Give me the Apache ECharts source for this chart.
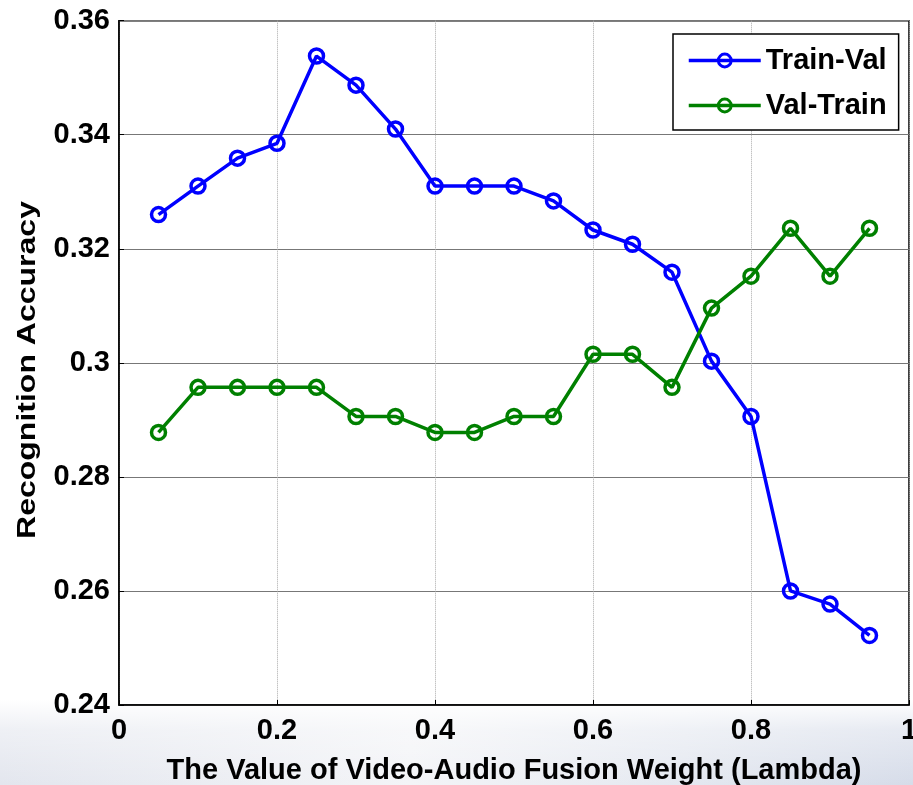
<!DOCTYPE html>
<html>
<head>
<meta charset="utf-8">
<script src="https://cdn.jsdelivr.net/npm/echarts@6/dist/echarts.min.js"></script>
<style>
  html, body { margin: 0; padding: 0; background: #fff; }
  #chart { width: 913px; height: 785px; }
</style>
</head>
<body>
<div id="chart"></div>
<script>
var lambdas = [0.05, 0.10, 0.15, 0.20, 0.25, 0.30, 0.35, 0.40, 0.45, 0.50,
               0.55, 0.60, 0.65, 0.70, 0.75, 0.80, 0.85, 0.90, 0.95];
var trainVal = [0.326, 0.331, 0.3359, 0.3385, 0.3538, 0.3487, 0.341, 0.331, 0.331, 0.331,
                0.3284, 0.3233, 0.3208, 0.3159, 0.3003, 0.2906, 0.260, 0.2577, 0.2522];
var valTrain = [0.2878, 0.2957, 0.2957, 0.2957, 0.2957, 0.2906, 0.2906, 0.2878, 0.2878, 0.2906,
                0.2906, 0.3015, 0.3015, 0.2957, 0.3096, 0.3152, 0.3236, 0.3152, 0.3236];
var xTicks = [0, 0.2, 0.4, 0.6, 0.8, 1];
var yTicks = [0.24, 0.26, 0.28, 0.3, 0.32, 0.34, 0.36];

var boldFont = '"Liberation Sans", Arial, sans-serif';

function pairs(xs, ys) {
    return xs.map(function(x, i) { return [x, ys[i]]; });
}

// drop trailing zeros like matlab does (0.30 -> 0.3)
function tickText(v) {
    return String(Number(v.toFixed(2)));
}

var myChart = echarts.init(document.getElementById('chart'));

var option = {
    backgroundColor: '#fff',
    animation: false,
    graphic: [{
        // slide background swoosh at the bottom
        type: 'rect',
        z: -10,
        silent: true,
        shape: { x: 0, y: 700, width: 913, height: 85 },
        style: {
            fill: new echarts.graphic.LinearGradient(0, 0, 1, 0, [
                { offset: 0, color: '#e3e6ee' },
                { offset: 0.45, color: '#f3f4f7' },
                { offset: 0.75, color: '#e4e8f0' },
                { offset: 1, color: '#d6dce9' }
            ])
        }
    }, {
        type: 'rect',
        z: -9,
        silent: true,
        shape: { x: 0, y: 700, width: 913, height: 85 },
        style: {
            fill: new echarts.graphic.LinearGradient(0, 0, 0, 1, [
                { offset: 0, color: 'rgba(255,255,255,1)' },
                { offset: 0.35, color: 'rgba(255,255,255,0.4)' },
                { offset: 1, color: 'rgba(255,255,255,0)' }
            ])
        }
    }, {
        type: 'text',
        x: 28,
        y: 370,
        rotation: Math.PI / 2,
        scaleX: 1.28,
        silent: true,
        style: {
            text: 'Recognition Accuracy',
            font: 'bold 25px ' + boldFont,
            fill: '#000',
            align: 'center',
            verticalAlign: 'middle'
        }
    }],
    grid: {
        left: 119, right: 4, top: 20.7, bottom: 80,
        outerBoundsMode: 'none',
        containLabel: false,
        show: true,
        borderColor: '#000',
        borderWidth: 1.5,
        backgroundColor: '#fff'
    },
    legend: {
        left: 673,
        top: 34,
        orient: 'vertical',
        backgroundColor: '#fff',
        borderColor: '#000',
        borderWidth: 1.5,
        padding: [12, 12, 10, 14],
        itemGap: 16,
        itemWidth: 72,
        itemHeight: 16,
        lineStyle: { width: 3.5 },
        itemStyle: { borderWidth: 3 },
        textStyle: {
            fontFamily: boldFont,
            fontWeight: 'bold',
            fontSize: 29,
            color: '#000',
            padding: [0, 0, 0, 0]
        },
        data: ['Train-Val', 'Val-Train']
    },
    xAxis: {
        type: 'value',
        min: 0,
        max: 1,
        interval: 0.2,
        name: 'The Value of Video-Audio Fusion Weight (Lambda)',
        nameLocation: 'middle',
        nameGap: 51,
        nameTextStyle: {
            fontFamily: boldFont,
            fontWeight: 'bold',
            fontSize: 29,
            color: '#000'
        },
        axisLine: { lineStyle: { color: '#000', width: 1.5 } },
        axisTick: { inside: true, length: 5, lineStyle: { color: '#000' } },
        axisLabel: {
            margin: 11,
            fontFamily: boldFont,
            fontWeight: 'bold',
            fontSize: 29,
            color: '#000',
            formatter: tickText
        },
        splitLine: { show: true, lineStyle: { color: '#aaa', width: 1, type: 'dotted' } }
    },
    yAxis: {
        type: 'value',
        min: 0.24,
        max: 0.36,
        interval: 0.02,
        axisLine: { lineStyle: { color: '#000', width: 1.5 } },
        axisTick: { inside: true, length: 5, lineStyle: { color: '#000' } },
        axisLabel: {
            margin: 9,
            fontFamily: boldFont,
            fontWeight: 'bold',
            fontSize: 29,
            color: '#000',
            formatter: tickText
        },
        splitLine: { show: true, lineStyle: { color: '#777', width: 1 } }
    },
    series: [{
        name: 'Train-Val',
        type: 'line',
        data: pairs(lambdas, trainVal),
        color: '#0000ff',
        symbol: 'circle',
        symbolSize: 14,
        lineStyle: { width: 3.5, color: '#0000ff' },
        itemStyle: { color: 'rgba(0,0,0,0)', borderColor: '#0000ff', borderWidth: 3.5 }
    }, {
        name: 'Val-Train',
        type: 'line',
        data: pairs(lambdas, valTrain),
        color: '#008000',
        symbol: 'circle',
        symbolSize: 14,
        lineStyle: { width: 3.5, color: '#008000' },
        itemStyle: { color: 'rgba(0,0,0,0)', borderColor: '#008000', borderWidth: 3.5 }
    }]
};

myChart.setOption(option);
</script>
</body>
</html>
